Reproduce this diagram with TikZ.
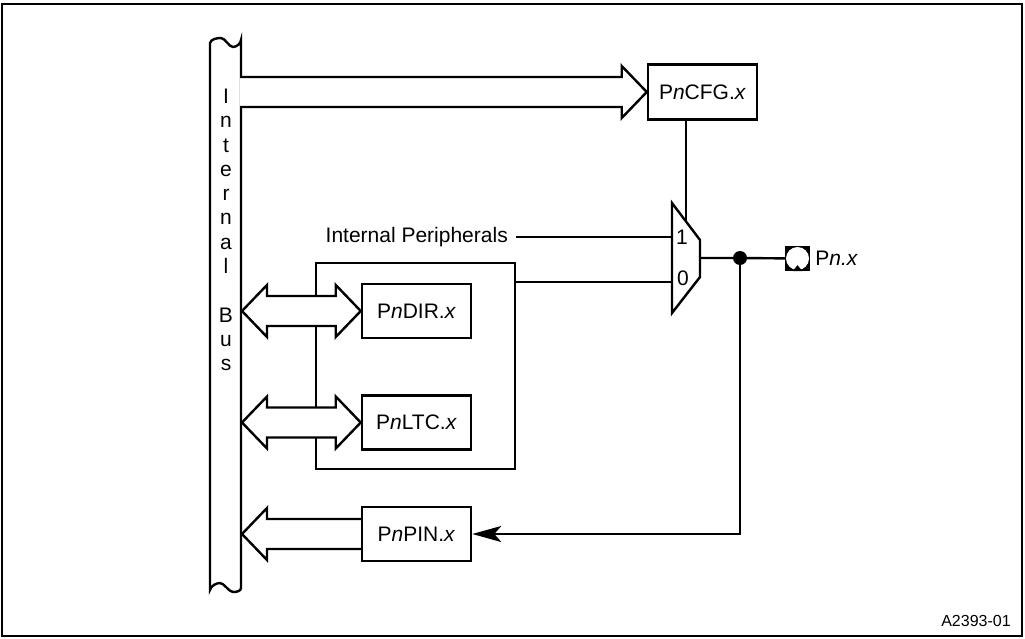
\documentclass[tikz,border=0pt]{standalone}
\usepackage{fontspec}
\setmainfont{Liberation Sans}
\usepackage{tikz}
\usetikzlibrary{calc,arrows.meta}
\usetikzlibrary{positioning}

\begin{document}
\begin{tikzpicture}[
    x=1pt, y=-1pt,
    node distance=55pt,
    font=\fontsize{21}{24}\selectfont,
    >={Stealth[length=29pt,width=16pt,inset=7pt]}
  ]

  % Styles for the port block
  \tikzset{
    wire/.style={line width=2.4pt, line join=miter},
    reg/.style={draw, line width=2.5pt, fill=white, minimum width=109pt, minimum height=54pt, inner sep=0pt},
    hollow/.style={line width=2.4pt, fill=white, line join=miter},
    dot/.style={circle, fill, inner sep=0pt, minimum size=14pt}
  }

  \useasboundingbox (0,0) rectangle (1025,639);
  \draw[line width=1.3pt] (2,4) rectangle (1022,636);

  % Internal bus bar with wavy ends
  \node (bus) [minimum width=31pt, minimum height=547pt, inner sep=0pt, outer sep=0pt] at (225.5,316.5) {};
  \draw[wire, fill=white] (bus.south west) -- (bus.north west)
    .. controls +(1,-4) and +(-4,0) .. ++(11,-5)
    .. controls +(4,0) and +(-4,0) .. ++(12,9)
    .. controls +(4,0) and +(0,3) .. ++(8,-7)
    -- ([yshift=2pt]bus.south east)
    .. controls +(0,3) and +(4,0) .. ++(-8,4)
    .. controls +(-4,0) and +(4,0) .. ++(-13,-9)
    .. controls +(-4,0) and +(1,-4) .. ++(-10,7)
    -- cycle;
  \foreach \ch/\k in {I/0,n/1,t/2,e/3,r/4,n/5,a/6,l/7,B/9,u/10,s/11}
    \node (bus-\k) [anchor=base, inner sep=0pt] at (226,103.5+24.3*\k) {\ch};

  % Configuration register
  \node (cfg) [reg, minimum height=55pt] at (702.5,92) {P\textit{n}CFG.\textit{x}};
  \draw[hollow] ($(bus.east |- cfg)+(-1,-15)$) -- ($(cfg.west)+(-25,-15)$) -- ++(0,-11)
    -- (cfg.west) -- ++(-25,26) -- ++(0,-11) -- ($(bus.east |- cfg)+(-1,15)$);

  % Direction and latch registers
  \node (ioreg) [draw, line width=2.4pt, minimum width=199pt, minimum height=206pt, inner sep=0pt] at (415.5,366) {};
  \node (dir)    [reg] at (416.5,311) {P\textit{n}DIR.\textit{x}};
  \node (ltc)    [reg, below=of dir] {P\textit{n}LTC.\textit{x}};
  \node (pinreg) [reg, below=of ltc] {P\textit{n}PIN.\textit{x}};

  \foreach \r in {dir,ltc}
    \draw[hollow] ($(bus.east |- \r)+(1,0)$) -- ++(25,-26) -- ++(0,11) -- ($(\r.west)+(-25,-15)$)
      -- ++(0,-11) -- (\r.west) -- ++(-25,26) -- ++(0,-11) -- ($(bus.east |- \r)+(26,15)$)
      -- ++(0,11) -- cycle;

  \draw[hollow] ($(pinreg.west)+(0,-15)$) -- ($(bus.east |- pinreg)+(26,-15)$) -- ++(0,-11)
    -- ($(bus.east |- pinreg)+(1,0)$) -- ++(25,26) -- ++(0,-11) -- ($(pinreg.west)+(0,15)$);

  % Multiplexer
  \draw[wire] (672,203) -- (700,240) -- (700,277) -- (672,313) -- cycle;
  \coordinate (mux-in1) at (672,237);
  \coordinate (mux-in0) at (672,282);
  \coordinate (mux-out) at (700,258);
  \coordinate (mux-sel) at (686,221.5);
  \node (mux-one)  at (682,237.5) {1};
  \node (mux-zero) at (683,278) {0};

  \node (periph) [anchor=east, inner xsep=8pt] at (516,237) {Internal Peripherals};
  \draw[wire] (periph.east) -- (mux-in1);
  \draw[wire] (cfg.south -| mux-sel) -- (mux-sel);
  \draw[wire] (ioreg.east |- mux-in0) -- (mux-in0);

  % Pin
  \node (join) [dot] at (740,258) {};
  \node (pin) [fill, minimum size=25pt, inner sep=0pt] at (797.5,258.5) {};
  \fill[white] (pin.center) circle (11.5pt);
  \fill (pin.south) ++(-5,0) -- ++(5,-6) -- ++(5,6) -- cycle;
  \node (pin-label) [right=5pt of pin, inner sep=0pt] {P\textit{n.x}};

  \draw[wire] (mux-out) -- (join) -- (pin);
  \draw[wire, ->] (join) |- (pinreg.east);

  \node (fig-id) [font=\fontsize{16}{18}\selectfont] at (976,621) {A2393-01};

\end{tikzpicture}
\end{document}
